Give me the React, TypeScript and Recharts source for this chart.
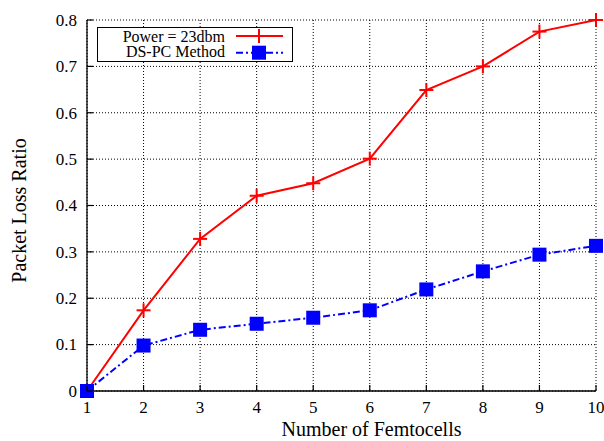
import React from "react";
import { LineChart, Line, XAxis, YAxis, CartesianGrid, Legend, Label } from "recharts";

const femtocells = [1, 2, 3, 4, 5, 6, 7, 8, 9, 10];
const powerValues = [0, 0.174, 0.328, 0.421, 0.448, 0.501, 0.649, 0.7, 0.775, 0.8];
const dspcValues = [0, 0.098, 0.132, 0.145, 0.158, 0.174, 0.219, 0.258, 0.294, 0.313];
const xTicks = [1, 2, 3, 4, 5, 6, 7, 8, 9, 10];
const yTicks = [0, 0.1, 0.2, 0.3, 0.4, 0.5, 0.6, 0.7, 0.8];
const yTickLabels = ["0", "0.1", "0.2", "0.3", "0.4", "0.5", "0.6", "0.7", "0.8"];
const seriesNames = ["Power = 23dbm", "DS-PC Method"];

const data = femtocells.map((n, i) => ({ n, power: powerValues[i], dspc: dspcValues[i] }));

const FONT = "'Liberation Serif', 'DejaVu Serif', serif";
const RED = "#ff0000";
const BLUE = "#0000ff";
const TICK = 6;
const TICK_FS = 17;
const LABEL_FS = 20;

const BottomTick = (props: any) => {
  const { x, y, payload } = props;
  return (
    <g>
      <line x1={x} y1={y} x2={x} y2={y - TICK} stroke="#000" strokeWidth={1.2} />
      <text x={x} y={y + 22} textAnchor="middle" fontFamily={FONT} fontSize={TICK_FS} fill="#000">
        {payload.value}
      </text>
    </g>
  );
};
const TopTick = (props: any) => {
  const { x, y } = props;
  return <line x1={x} y1={y} x2={x} y2={y + TICK} stroke="#000" strokeWidth={1.2} />;
};
const LeftTick = (props: any) => {
  const { x, y, index } = props;
  return (
    <g>
      <line x1={x} y1={y} x2={x + TICK} y2={y} stroke="#000" strokeWidth={1.2} />
      <text x={x - 10} y={y + 5.8} textAnchor="end" fontFamily={FONT} fontSize={TICK_FS} fill="#000">
        {yTickLabels[index]}
      </text>
    </g>
  );
};
const RightTick = (props: any) => {
  const { x, y } = props;
  return <line x1={x} y1={y} x2={x - TICK} y2={y} stroke="#000" strokeWidth={1.2} />;
};

const PlusDot = (props: any) => {
  const { cx, cy, index } = props;
  if (cx == null || cy == null) return <g key={index} />;
  return (
    <g key={index}>
      <line x1={cx - 7} y1={cy} x2={cx + 7} y2={cy} stroke={RED} strokeWidth={2} />
      <line x1={cx} y1={cy - 7} x2={cx} y2={cy + 7} stroke={RED} strokeWidth={2} />
    </g>
  );
};
const SquareDot = (props: any) => {
  const { cx, cy, index } = props;
  if (cx == null || cy == null) return <g key={index} />;
  return <rect key={index} x={cx - 7} y={cy - 7} width={14} height={14} fill={BLUE} />;
};

const LegendBox = () => (
  <svg width={196} height={35} style={{ display: "block" }}>
    <rect x={0.5} y={0.5} width={195} height={34} fill="#fff" stroke="#000" strokeWidth={1} />
    <text x={128} y={14.7} textAnchor="end" fontFamily={FONT} fontSize={16} fill="#000">
      {seriesNames[0]}
    </text>
    <line x1={139} y1={9} x2={186} y2={9} stroke={RED} strokeWidth={2} />
    <line x1={155} y1={9} x2={169} y2={9} stroke={RED} strokeWidth={2} />
    <line x1={162} y1={2} x2={162} y2={16} stroke={RED} strokeWidth={2} />
    <text x={128} y={30.3} textAnchor="end" fontFamily={FONT} fontSize={16} fill="#000">
      {seriesNames[1]}
    </text>
    <line x1={139} y1={25.7} x2={186} y2={25.7} stroke={BLUE} strokeWidth={2} strokeDasharray="7 3 2 3" />
    <rect x={155} y={18.7} width={14} height={14} fill={BLUE} />
  </svg>
);

export default function App() {
  return (
    <div style={{ position: "fixed", left: 0, top: 0, width: 604, height: 441, overflow: "hidden", background: "#fff" }}>
      <LineChart width={604} height={441} data={data} margin={{ top: 20, right: 8, bottom: 0, left: 0 }}>
        <CartesianGrid
          xAxisId="bottom"
          yAxisId="left"
          stroke="#000"
          strokeDasharray="1 2"
          strokeWidth={1}
          horizontalValues={yTicks}
          verticalValues={xTicks}
        />
        <XAxis
          xAxisId="bottom"
          dataKey="n"
          type="number"
          domain={[1, 10]}
          ticks={xTicks}
          interval={0}
          height={50}
          tickSize={0}
          tickMargin={0}
          tickLine={false}
          axisLine={{ stroke: "#000", strokeWidth: 1.3 }}
          tick={<BottomTick />}
        >
          <Label
            content={(p: any) => {
              const vb = p.viewBox || { x: 87, y: 391, width: 509, height: 50 };
              return (
                <text x={vb.x + vb.width / 2 + 30} y={vb.y + 45} textAnchor="middle" fontFamily={FONT} fontSize={LABEL_FS} fill="#000">
                  Number of Femtocells
                </text>
              );
            }}
          />
        </XAxis>
        <XAxis
          xAxisId="top"
          orientation="top"
          dataKey="n"
          type="number"
          domain={[1, 10]}
          ticks={xTicks}
          interval={0}
          height={0}
          tickSize={0}
          tickMargin={0}
          tickLine={false}
          axisLine={{ stroke: "#000", strokeWidth: 1.3 }}
          tick={<TopTick />}
        />
        <YAxis
          yAxisId="left"
          type="number"
          domain={[0, 0.8]}
          ticks={yTicks}
          interval={0}
          width={87}
          tickSize={0}
          tickMargin={0}
          tickLine={false}
          axisLine={{ stroke: "#000", strokeWidth: 1.3 }}
          tick={<LeftTick />}
        >
          <Label
            content={(p: any) => {
              const vb = p.viewBox || { x: 0, y: 20, width: 87, height: 371 };
              const cy = vb.y + vb.height / 2 + 5;
              return (
                <text
                  x={26}
                  y={cy}
                  transform={`rotate(-90, 26, ${cy})`}
                  textAnchor="middle"
                  fontFamily={FONT}
                  fontSize={LABEL_FS}
                  fill="#000"
                >
                  Packet Loss Ratio
                </text>
              );
            }}
          />
        </YAxis>
        <YAxis
          yAxisId="right"
          orientation="right"
          type="number"
          domain={[0, 0.8]}
          ticks={yTicks}
          interval={0}
          width={0}
          tickSize={0}
          tickMargin={0}
          tickLine={false}
          axisLine={{ stroke: "#000", strokeWidth: 1.3 }}
          tick={<RightTick />}
        />
        <Legend
          layout="horizontal"
          verticalAlign="middle"
          align="center"
          wrapperStyle={{ left: 97, top: 27, width: 196, height: 35 }}
          content={() => <LegendBox />}
        />
        <Line
          xAxisId="bottom"
          yAxisId="left"
          type="linear"
          dataKey="power"
          name={seriesNames[0]}
          stroke={RED}
          strokeWidth={2}
          dot={<PlusDot />}
          activeDot={false}
          isAnimationActive={false}
        />
        <Line
          xAxisId="bottom"
          yAxisId="left"
          type="linear"
          dataKey="dspc"
          name={seriesNames[1]}
          stroke={BLUE}
          strokeWidth={2}
          strokeDasharray="7 3 2 3"
          dot={<SquareDot />}
          activeDot={false}
          isAnimationActive={false}
        />
      </LineChart>
    </div>
  );
}
